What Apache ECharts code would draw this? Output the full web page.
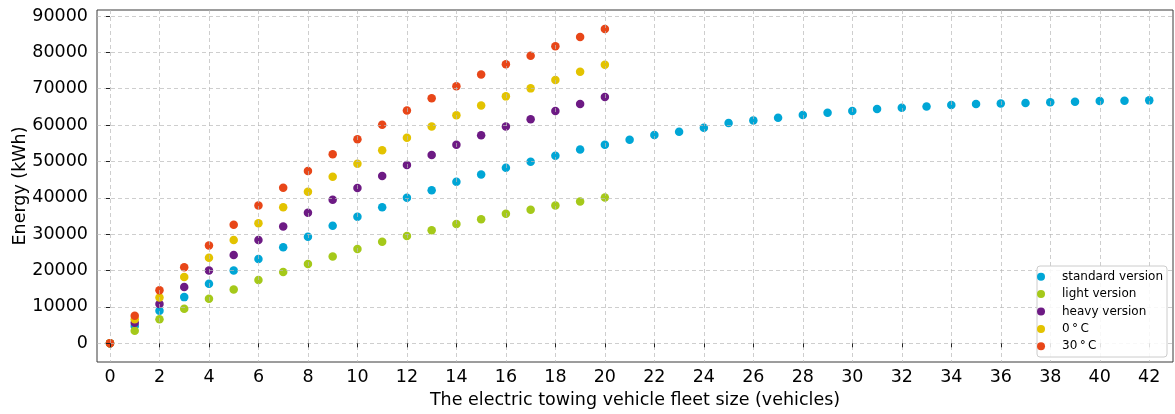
<!DOCTYPE html>
<html>
<head>
<meta charset="utf-8">
<title>Fleet energy demand</title>
<script src="https://cdn.jsdelivr.net/npm/echarts@6/dist/echarts.min.js"></script>
<style>
  html, body { margin: 0; padding: 0; background: #fff; }
  #chart { width: 1175px; height: 414px; }
</style>
</head>
<body>
<div id="chart"></div>
<script>
// Fleet sizes (vehicles)
const fleetLong = Array.from({ length: 43 }, (_, i) => i);   // 0..42
const fleetShort = Array.from({ length: 21 }, (_, i) => i);  // 0..20

// Energy demand (kWh) per fleet size
const standardVersion = [0, 4750, 8960, 12700, 16400, 20000, 23200, 26400, 29300, 32300,
  34800, 37400, 40000, 42100, 44400, 46400, 48300, 49900, 51600, 53300,
  54600, 55960, 57250, 58200, 59260, 60550, 61300, 62000, 62800, 63400,
  63900, 64400, 64800, 65100, 65500, 65800, 65950, 66100, 66300, 66400,
  66600, 66700, 66800];
const lightVersion = [0, 3470, 6600, 9500, 12250, 14800, 17400, 19600, 21800, 23900,
  25900, 27900, 29500, 31100, 32800, 34100, 35600, 36700, 37900, 39000, 40100];
const heavyVersion = [0, 5660, 10800, 15500, 20000, 24300, 28400, 32100, 35900, 39500,
  42700, 46000, 49000, 51800, 54600, 57200, 59600, 61600, 63900, 65800, 67700];
const zeroDegrees = [0, 6600, 12600, 18200, 23500, 28400, 33000, 37400, 41700, 45800,
  49400, 53100, 56500, 59600, 62700, 65400, 67900, 70100, 72400, 74700, 76600];
const thirtyDegrees = [0, 7580, 14600, 20900, 26900, 32600, 37900, 42800, 47400, 52000,
  56100, 60100, 64000, 67400, 70700, 73900, 76700, 79100, 81700, 84200, 86400];

// Tick labels
const xTicks = Array.from({ length: 22 }, (_, i) => i * 2);      // 0..42
const yTicks = Array.from({ length: 10 }, (_, i) => i * 10000);  // 0..90000

const seriesNames = ['standard version', 'light version', 'heavy version', '0\u2009\u00b0\u2009C', '30\u2009\u00b0\u2009C'];
const seriesColors = ['#00a6d6', '#a5c91a', '#6d1a84', '#e3c300', '#e84618'];

const pair = (xs, ys) => ys.map((y, i) => [xs[i], y]);
const seriesData = [
  pair(fleetLong, standardVersion),
  pair(fleetShort, lightVersion),
  pair(fleetShort, heavyVersion),
  pair(fleetShort, zeroDegrees),
  pair(fleetShort, thirtyDegrees)
];

const FONT = "'DejaVu Sans', sans-serif";
const FS = 17.5;
const gridLine = { show: true, lineStyle: { color: 'rgba(185,185,185,0.7)', type: [4, 3], width: 1 } };

const chart = echarts.init(document.getElementById('chart'), null, { renderer: 'canvas' });

chart.setOption({
  animation: false,
  backgroundColor: '#ffffff',
  grid: {
    left: 97, right: 2, top: 10, bottom: 52,
    outerBoundsMode: 'none',
    containLabel: false,
    show: true, borderColor: '#3a3a3a', borderWidth: 1, backgroundColor: 'transparent'
  },
  legend: {
    right: 8, top: 266,
    orient: 'vertical',
    data: seriesNames,
    icon: 'circle',
    itemWidth: 32, itemHeight: 8, itemGap: 0,
    padding: [2, 4, 2, 0],
    backgroundColor: 'rgba(255,255,255,0.85)',
    borderColor: '#cccccc', borderWidth: 1, borderRadius: 3,
    textStyle: { fontFamily: FONT, fontSize: 12, color: '#000', lineHeight: 17.4 }
  },
  xAxis: {
    type: 'value',
    min: -0.525, max: 42.96,
    z: 3,
    name: 'The electric towing vehicle fleet size (vehicles)',
    nameLocation: 'middle', nameGap: 29,
    nameMoveOverlap: false,
    nameTextStyle: { fontFamily: FONT, fontSize: FS, color: '#000' },
    axisLine: { show: false },
    axisTick: { show: true, length: 4, lineStyle: { color: '#222' }, customValues: xTicks },
    axisLabel: { fontFamily: FONT, fontSize: FS, color: '#000', margin: 6, customValues: xTicks },
    splitLine: gridLine
  },
  yAxis: {
    type: 'value',
    min: -5140, max: 91650,
    z: 3,
    name: 'Energy (kWh)',
    nameLocation: 'middle', nameGap: 68, nameRotate: 90,
    nameMoveOverlap: false,
    nameTextStyle: { fontFamily: FONT, fontSize: FS, color: '#000' },
    axisLine: { show: false },
    axisTick: { show: true, length: 4, lineStyle: { color: '#222' }, customValues: yTicks },
    axisLabel: { fontFamily: FONT, fontSize: FS, color: '#000', margin: 9, customValues: yTicks,
      formatter: v => String(v) },
    splitLine: gridLine
  },
  series: seriesNames.map((name, i) => ({
    name,
    type: 'scatter',
    data: seriesData[i],
    symbol: 'circle',
    symbolSize: 8.5,
    itemStyle: { color: seriesColors[i], opacity: 1 },
    emphasis: { disabled: true }
  }))
});
</script>
</body>
</html>
